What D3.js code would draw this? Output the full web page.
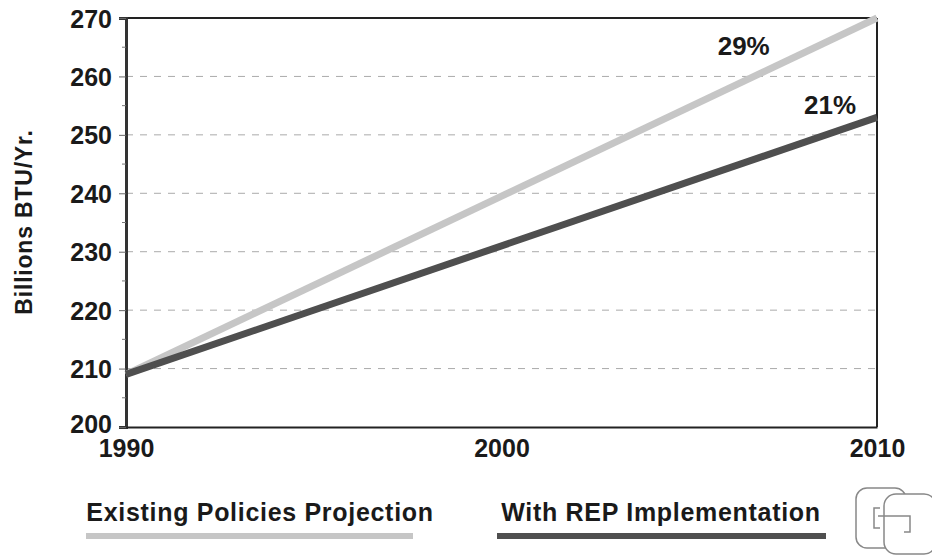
<!DOCTYPE html>
<html>
<head>
<meta charset="utf-8">
<script src="https://cdn.jsdelivr.net/npm/d3@7"></script>
<style>
  body { margin: 0; background: #fff; }
  text { font-family: "Liberation Sans", Arial, sans-serif; font-weight: bold; fill: #1a1a1a; }
</style>
</head>
<body>
<div id="chart"></div>
<script>
const years = [1990, 2010];
const existingPolicies = [209, 270];
const withREP = [209, 253];
const yTicks = [200, 210, 220, 230, 240, 250, 260, 270];
const xTicks = [1990, 2000, 2010];
const pctLabels = ["29%", "21%"];
const legendNames = ["Existing Policies Projection", "With REP Implementation"];

const W = 932, H = 556;
const margin = { top: 18, right: 55, bottom: 129, left: 126 };
const width = W - margin.left - margin.right;
const height = H - margin.top - margin.bottom;

let svg = d3.select("#chart").append("svg")
  .attr("width", W).attr("height", H);

let g = svg.append("g")
  .attr("transform", "translate(" + margin.left + "," + margin.top + ")");

let x = d3.scaleLinear().domain([1990, 2010]).range([0, width]);
let y = d3.scaleLinear().domain([200, 270]).range([height, 0]);

// dashed grid
g.selectAll(".grid").data(yTicks.filter(d => d > 200 && d < 270))
  .enter().append("line")
  .attr("x1", 0).attr("x2", width)
  .attr("y1", d => y(d)).attr("y2", d => y(d))
  .attr("stroke", "#aaa").attr("stroke-width", 1)
  .attr("stroke-dasharray", "7,7");

// frame (top/right)
g.append("line").attr("x1", 0).attr("x2", width).attr("y1", 0).attr("y2", 0)
  .attr("stroke", "#222").attr("stroke-width", 2);
g.append("line").attr("x1", width).attr("x2", width).attr("y1", 0).attr("y2", height)
  .attr("stroke", "#222").attr("stroke-width", 2);

// y axis
let yAxis = g.append("g").attr("class", "y-axis")
  .call(d3.axisLeft(y).tickValues(yTicks).tickSize(7).tickPadding(7));
yAxis.select(".domain").attr("stroke", "#333").attr("stroke-width", 3);
yAxis.selectAll(".tick line").attr("stroke", "#666");
yAxis.selectAll("text").style("font-size", "25px").attr("fill", "#1a1a1a").attr("dy", "0.36em");
yAxis.selectAll(".tick").filter(d => d === 200).select("text").attr("dy", "0.2em");

// minor ticks
g.selectAll(".minor").data(yTicks.slice(0, -1).map(d => d + 5))
  .enter().append("line")
  .attr("x1", -4).attr("x2", 0)
  .attr("y1", d => y(d)).attr("y2", d => y(d))
  .attr("stroke", "#777");

// x axis
let xAxis = g.append("g").attr("class", "x-axis")
  .attr("transform", "translate(0," + height + ")")
  .call(d3.axisBottom(x).tickValues(xTicks).tickFormat(d3.format("d")).tickSize(0).tickPadding(12));
xAxis.select(".domain").attr("stroke", "#222").attr("stroke-width", 2);
xAxis.selectAll("text").style("font-size", "25px").attr("fill", "#1a1a1a");

g.append("text")
  .attr("transform", "rotate(-90)")
  .attr("x", -(222 - margin.top)).attr("y", -94)
  .attr("text-anchor", "middle")
  .style("font-size", "23px")
  .style("letter-spacing", "0.8px")
  .text("Billions BTU/Yr.");

let line = d3.line()
  .x((d, i) => x(years[i]))
  .y(d => y(d));

g.append("path").datum(existingPolicies)
  .attr("fill", "none").attr("stroke", "#c6c6c6")
  .attr("stroke-width", 7).attr("d", line);
g.append("path").datum(withREP)
  .attr("fill", "none").attr("stroke", "#4f4f4f")
  .attr("stroke-width", 7).attr("d", line);

g.append("text").attr("x", x(2006.45)).attr("y", y(263.7))
  .style("font-size", "26px").attr("text-anchor", "middle").text(pctLabels[0]);
g.append("text").attr("x", x(2008.75)).attr("y", y(253.5))
  .style("font-size", "26px").attr("text-anchor", "middle").text(pctLabels[1]);

// legend
const legendColors = ["#c6c6c6", "#4f4f4f"];
const legendX = [[86, 413], [497, 826]];
const legendTextX = [260, 661];
legendNames.forEach((name, i) => {
  svg.append("text")
    .attr("x", legendTextX[i]).attr("y", 521)
    .attr("text-anchor", "middle")
    .style("font-size", "25px")
    .style("letter-spacing", "0.7px")
    .text(name);
  svg.append("line")
    .attr("x1", legendX[i][0]).attr("x2", legendX[i][1])
    .attr("y1", 536).attr("y2", 536)
    .attr("stroke", legendColors[i]).attr("stroke-width", 6);
});

// logo
let logo = svg.append("g").attr("fill", "none").attr("stroke", "#888").attr("stroke-width", 1.5);
logo.append("rect").attr("x", 856).attr("y", 488).attr("width", 50).attr("height", 60).attr("rx", 11);
logo.append("rect").attr("x", 884).attr("y", 494).attr("width", 52).attr("height", 60).attr("rx", 12).attr("fill", "#fff");
logo.append("path").attr("d", "M880,508 h-6 v20 h6 M878,516 h32 v16 h-6");
</script>
</body>
</html>
